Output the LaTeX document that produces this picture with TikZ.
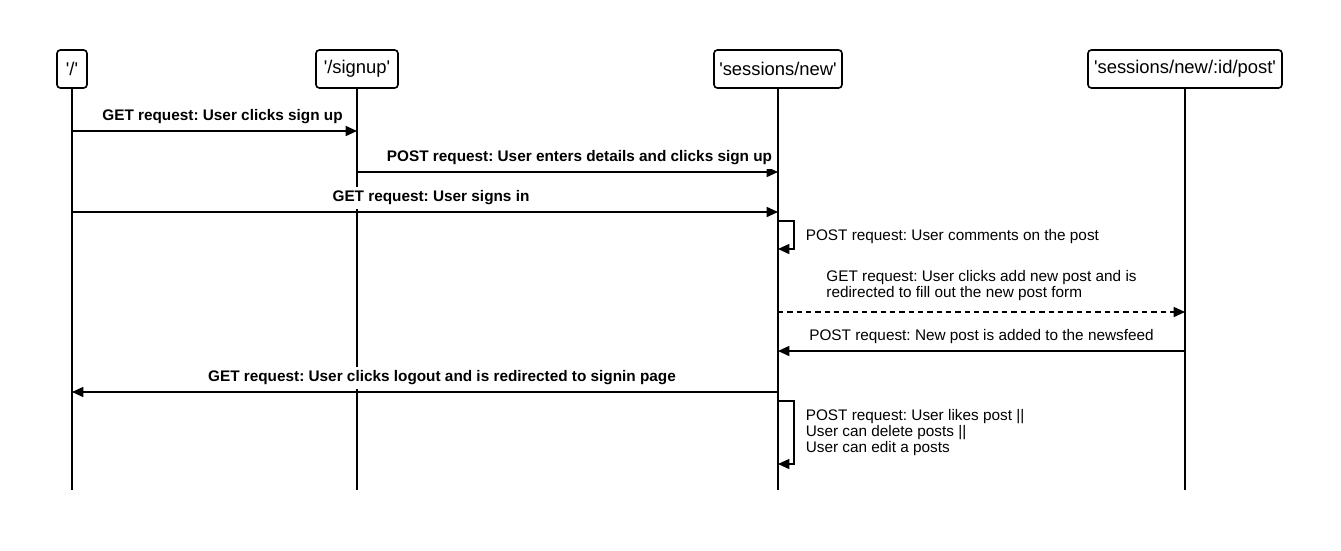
\documentclass[tikz,border=0pt]{standalone}
\usepackage{fontspec}
\setmainfont{Liberation Sans}
\usetikzlibrary{arrows.meta}
\newcommand{\route}[1]{\textquotesingle#1\textquotesingle}
\frenchspacing
\begin{document}
\begin{tikzpicture}[x=0.75pt,y=-0.75pt,line width=1.2pt,
  lane/.style={rectangle,draw,rounded corners=2.5pt,minimum height=28.5pt,inner xsep=0pt,font=\fontsize{13.8}{16}\selectfont},
  msg/.style={-{Triangle[length=8.5pt,width=7.5pt]}},
  lbl/.style={midway,yshift=10.5pt,fill=white,inner xsep=1pt,inner ysep=3pt,font=\fontsize{11.5}{13}\selectfont\bfseries},
  note/.style={anchor=west,align=left,inner sep=0pt,font=\fontsize{11.5}{12}\selectfont}]
\useasboundingbox (0,0) rectangle (1341,550);
% lanes
\node[lane,minimum width=22.5pt] (root) at (72,69) {\route{/}};
\node[lane,minimum width=61.5pt] (signup) at (357,69) {\route{/signup}};
\node[lane,minimum width=96pt] (sess) at (778,69) {\route{sessions/new}};
\node[lane,minimum width=145.5pt] (post) at (1185,69) {\route{sessions/new/:id/post}};
\draw (root) -- (root |- 0,490);
\draw (signup) -- (signup |- 0,490);
\draw (sess) -- (sess |- 0,490);
\draw (post) -- (post |- 0,490);
% messages
\draw[msg] (root |- 0,131) -- node[lbl,xshift=6pt] (l1) {GET request: User clicks sign up} (signup |- 0,131);
\draw[msg] (signup |- 0,172) -- node[lbl,xshift=9pt] (l2) {POST request: User enters details and clicks sign up} (sess |- 0,172);
\draw[msg] (root |- 0,212) -- node[lbl,xshift=4.5pt] (l3) {GET request: User signs in} (sess |- 0,212);
\draw[msg] (sess |- 0,221) -- ++(16,0) -- ++(0,28) -- ++(-16,0);
\node[note] (n1) at (805,237) {POST request: User comments on the post};
\draw[msg,dash pattern=on 4pt off 3pt] (sess |- 0,312) -- node[note,anchor=center,yshift=19.5pt] (n2) {GET request: User clicks add new post and is\\redirected to fill out the new post form} (post |- 0,312);
\draw[msg] (post |- 0,351) -- node[lbl,font=\fontsize{11.5}{13}\selectfont] (l4) {POST request: New post is added to the newsfeed} (sess |- 0,351);
\draw[msg] (sess |- 0,392) -- node[lbl,xshift=12.75pt] (l5) {GET request: User clicks logout and is redirected to signin page} (root |- 0,392);
\draw[msg] (sess |- 0,401) -- ++(16,0) -- ++(0,63) -- ++(-16,0);
\node[note] (n3) at (805,433) {POST request: User likes post ||\\User can delete posts ||\\User can edit a posts};
\end{tikzpicture}
\end{document}
